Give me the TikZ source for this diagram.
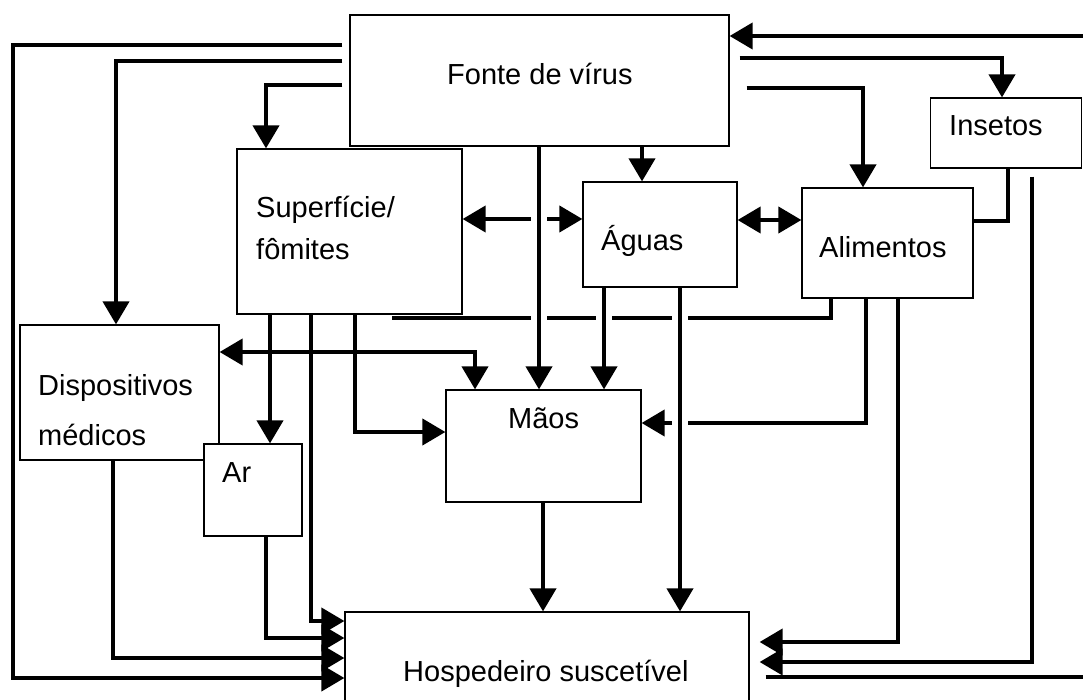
\documentclass[tikz,border=0pt]{standalone}
\usepackage{fontspec}
\setmainfont{Liberation Sans}
\usetikzlibrary{arrows.meta}
\begin{document}
\begin{tikzpicture}[x=1pt,y=-1pt,
  box/.style={draw=black, line width=1.2pt, fill=white, inner sep=0pt},
  txt/.style={inner sep=0pt, anchor=base west, font=\fontsize{29}{35}\selectfont},
  conn/.style={line width=4pt},
  Tri/.tip={Triangle[width=26pt,length=23pt]},
  arr/.style={conn,-Tri},
  arr2/.style={conn,Tri-Tri},
  halo/.style={preaction={draw=white,line width=16pt,-,shorten <=12pt,shorten >=30pt}}
]
\fill[white] (0,0) rectangle (1083,700);
\useasboundingbox (0,0) rectangle (1083,700);

% boxes
\node[box, minimum width=379pt, minimum height=131pt] (fonte) at (539.5,80.5) {};
\node[box, minimum width=225pt, minimum height=165pt] (sup) at (349.5,231.5) {};
\node[box, minimum width=154pt, minimum height=105pt] (aguas) at (660,234.5) {};
\node[box, minimum width=171pt, minimum height=110pt] (alim) at (887.5,243) {};
\node[box, minimum width=151pt, minimum height=70pt] (ins) at (1006,133) {};
\node[box, minimum width=199pt, minimum height=135pt] (disp) at (119.5,392.5) {};
\node[box, minimum width=98pt, minimum height=92pt] (ar) at (253,490) {};
\node[box, minimum width=195pt, minimum height=112pt] (maos) at (543.5,446) {};
\node[box, minimum width=404pt, minimum height=92pt] (hosp) at (547,658) {};

% texts
\node[txt] (tFonte) at (447,85) {Fonte de vírus};
\node[txt] (tSup1) at (256,218) {Superfície/};
\node[txt] (tSup2) at (256,260) {fômites};
\node[txt] (tAguas) at (601,251) {Águas};
\node[txt] (tAlim) at (819,258) {Alimentos};
\node[txt] (tIns) at (949,136) {Insetos};
\node[txt] (tDisp1) at (38,395) {Dispositivos};
\node[txt] (tDisp2) at (38,445) {médicos};
\node[txt] (tAr) at (222,482) {Ar};
\node[txt] (tMaos) at (508,428) {Mãos};
\node[txt] (tHosp) at (403,681) {Hospedeiro suscetível};

% free ends
\coordinate (rE1) at (1083,677);
\coordinate (rE2) at (1083,36);
\coordinate (supEnd) at (392,318);

% connectors from Fonte
\draw[arr, shorten <=7pt] (fonte.west |- 0,45) -- (13,45) |- (hosp.west |- 0,678);
\draw[arr, shorten <=7pt] (fonte.west |- 0,61) -| (116,0 |- disp.north);
\draw[arr, shorten <=7pt] (fonte.west |- 0,85) -| (266,0 |- sup.north);
\draw[arr] (rE2) -- (fonte.east |- rE2);
\draw[arr, shorten <=10pt] (fonte.east |- 0,58) -| (1002,0 |- ins.north);
\draw[arr, shorten <=17pt] (fonte.east |- 0,88) -| (863,0 |- alim.north);
\draw[arr] (fonte.south -| 642,0) -- (aguas.north -| 642,0);

% horizontals that get interrupted
\draw[arr2] (sup.east |- 0,219) -- (aguas.west |- 0,219);
\draw[arr2] (aguas.east |- 0,220) -- (alim.west |- 0,220);
\draw[conn] (alim.south -| 831,0) |- (supEnd);
\draw[arr] (alim.south -| 866,0) |- (maos.east |- 0,423);

% verticals with crossing gaps
\draw[arr, halo] (fonte.south -| 539,0) -- (maos.north -| 539,0);
\draw[arr, halo] (aguas.south -| 604,0) -- (maos.north -| 604,0);
\draw[arr, halo] (aguas.south -| 680,0) -- (hosp.north -| 680,0);

% Insetos / Alimentos to the right of Hospedeiro
\draw[conn] (ins.south -| 1008,0) |- (alim.east |- 0,221);
\draw[arr, shorten <=8pt, shorten >=10pt] (ins.south -| 1032,0) |- (hosp.east |- 0,662);
\draw[arr, shorten >=10pt] (alim.south -| 898,0) |- (hosp.east |- 0,642);
\draw[conn, shorten <=16pt] (hosp.east |- rE1) -- (rE1);

% Maos to Hospedeiro
\draw[arr] (maos.south -| 543,0) -- (hosp.north -| 543,0);

% Superficie lines
\draw[arr] (sup.south -| 270,0) -- (ar.north -| 270,0);
\draw[arr] (sup.south -| 311,0) |- (hosp.west |- 0,621);
\draw[arr] (sup.south -| 355,0) |- (maos.west |- 0,432);
\draw[arr] (ar.south -| 266,0) |- (hosp.west |- 0,638);
\draw[arr] (disp.south -| 113,0) |- (hosp.west |- 0,658);
\draw[arr2] (disp.east |- 0,352) -| (475,0 |- maos.north);
\end{tikzpicture}
\end{document}
